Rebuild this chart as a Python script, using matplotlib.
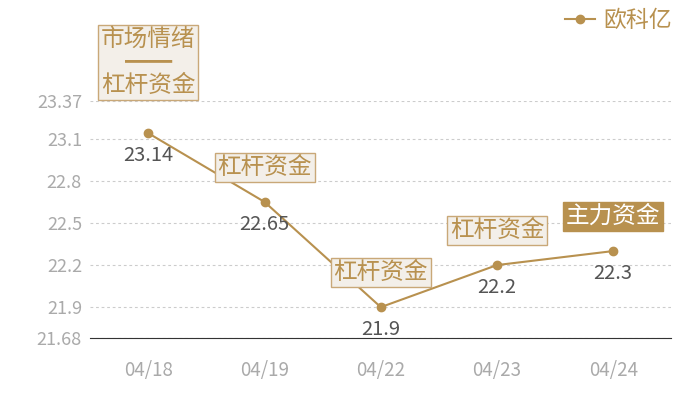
import matplotlib.pyplot as plt

plt.rcParams['font.family'] = ['Noto Sans CJK SC', 'DejaVu Sans']

# 数据
datas = ['04/18', '04/19', '04/22', '04/23', '04/24']
valores = [23.14, 22.65, 21.9, 22.2, 22.3]
rotulos = ['市场情绪\n━━\n杠杆资金', '杠杆资金', '杠杆资金', '杠杆资金', '主力资金']
destaque = [False, False, False, False, True]
yticks = [21.68, 21.9, 22.2, 22.5, 22.8, 23.1, 23.37]
serie = '欧科亿'

ouro = '#b8914f'

fig = plt.figure(figsize=(7, 4), dpi=100)
ax = fig.add_axes([0.129, 0.155, 0.83, 0.5925])

x = list(range(len(datas)))
ax.plot(x, valores, color=ouro, lw=1.5, marker='o', ms=6, label=serie)
ax.set_xlim(-0.5, len(datas) - 0.5)
ax.set_ylim(yticks[0], yticks[-1])

ax.set_xticks(x)
ax.set_xticklabels(datas)
ax.set_yticks(yticks)
ax.set_yticklabels([f'{v:g}' for v in yticks])
ax.tick_params(axis='x', length=0, pad=16, labelsize=13.5, labelcolor='#aaaaaa')
ax.tick_params(axis='y', length=0, pad=6, labelsize=13, labelcolor='#aaaaaa')

for s in ['top', 'right', 'left']:
    ax.spines[s].set_visible(False)
ax.spines['bottom'].set_color('#333333')
ax.grid(axis='y', linestyle=(0, (2.5, 2.5)), color='#cccccc', lw=0.8)
ax.set_axisbelow(True)

# valores abaixo dos pontos
for xi, v in zip(x, valores):
    ax.annotate(f'{v:g}', (xi, v), xytext=(0, -16), textcoords='offset points',
                ha='center', va='center', fontsize=14.5, color='#555555')

# caixas acima dos pontos
for xi, v, r, d in zip(x, valores, rotulos, destaque):
    dy = 51 if '\n' in r else 25
    if d:
        box = dict(boxstyle='square,pad=0.12', fc=ouro, ec=ouro)
        cor = 'white'
    else:
        box = dict(boxstyle='square,pad=0.12', fc='#f3efe9', ec='#c9a878', lw=1)
        cor = ouro
    ax.annotate(r, (xi, v), xytext=(0, dy), textcoords='offset points',
                ha='center', va='center', fontsize=17, color=cor,
                bbox=box, linespacing=1.02)

fig.legend(loc='upper right', bbox_to_anchor=(0.99, 1.03), frameon=False,
           fontsize=16.5, labelcolor=ouro, handlelength=1.3, handletextpad=0.4)

plt.savefig('out.png', dpi=100)
